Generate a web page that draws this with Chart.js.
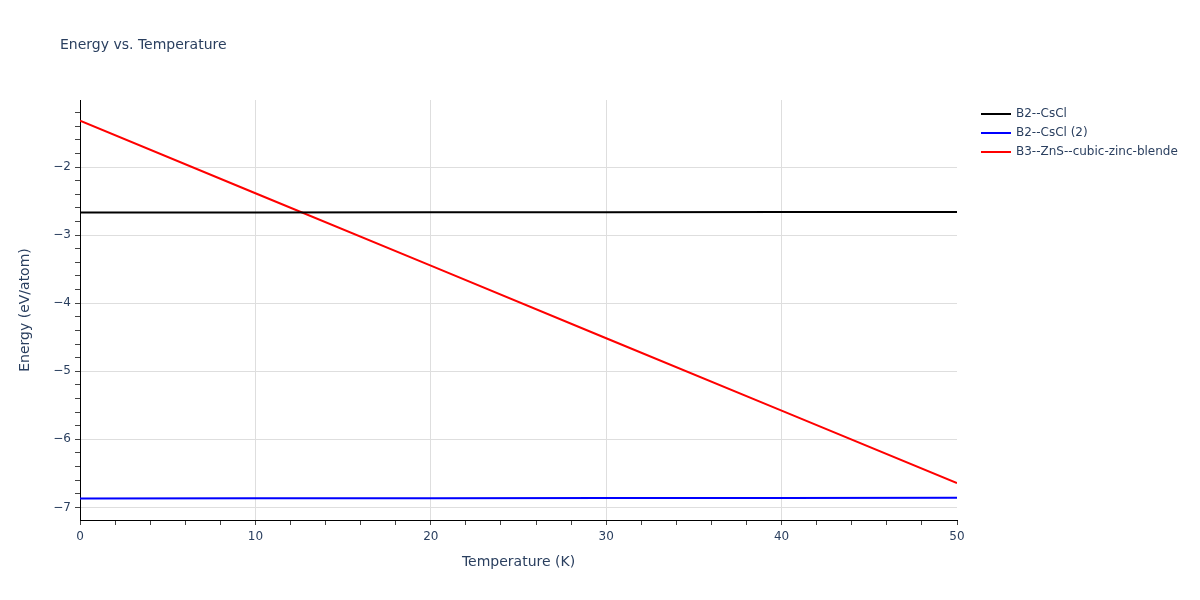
<!DOCTYPE html>
<html>
<head>
<meta charset="utf-8">
<script src="https://cdn.jsdelivr.net/npm/chart.js@4"></script>
<style>
  html, body { margin: 0; padding: 0; background: #fff; }
  #wrap { width: 1200px; height: 600px; }
</style>
</head>
<body>
<div id="wrap"><canvas id="chart"></canvas></div>
<script>
// Values
const temperatures = [0, 10, 20, 30, 40, 50];
const energyB2 = [-2.669, -2.667, -2.665, -2.663, -2.661, -2.659];
const energyB2b = [-6.868, -6.866, -6.864, -6.862, -6.860, -6.858];
const energyB3 = [-1.318, -2.385, -3.448, -4.515, -5.578, -6.641];
const seriesNames = ['B2--CsCl', 'B2--CsCl (2)', 'B3--ZnS--cubic-zinc-blende'];
const seriesColors = ['#000000', '#0000ff', '#ff0000'];
const xTickValues = [0, 2, 4, 6, 8, 10, 12, 14, 16, 18, 20, 22, 24, 26, 28, 30, 32, 34, 36, 38, 40, 42, 44, 46, 48, 50];
const yTickValues = [];
for (let v = -7.2; v <= -1.0; v += 0.2) yTickValues.push(Math.round(v * 10) / 10);

const FONT = '"DejaVu Sans", Verdana, sans-serif';
const TXT = '#2a3f5f';
const isMajor = (v, step) => Math.abs(v / step - Math.round(v / step)) < 1e-6;

// title and legend drawn by hand so they land where plotly put them
const decorPlugin = {
    id: 'decor',
    afterDraw(chart) {
        const ctx = chart.ctx;
        ctx.save();
        ctx.fillStyle = TXT;
        ctx.font = '14px ' + FONT;
        ctx.textBaseline = 'middle';
        ctx.textAlign = 'left';
        ctx.fillText('Energy vs. Temperature', 60, 45);

        ctx.font = '12px ' + FONT;
        chart.data.datasets.forEach((ds, i) => {
            const y = 114 + i * 19;
            ctx.strokeStyle = ds.borderColor;
            ctx.lineWidth = 2;
            ctx.beginPath();
            ctx.moveTo(981, y);
            ctx.lineTo(1011, y);
            ctx.stroke();
            ctx.fillStyle = TXT;
            ctx.fillText(ds.label, 1016, y);
        });
        ctx.restore();
    }
};

const toPoints = (ys) => temperatures.map((t, i) => ({ x: t, y: ys[i] }));

new Chart(document.getElementById('chart'), {
    type: 'line',
    data: {
        datasets: [energyB2, energyB2b, energyB3].map((ys, i) => ({
            label: seriesNames[i],
            data: toPoints(ys),
            borderColor: seriesColors[i],
            backgroundColor: seriesColors[i],
            borderWidth: 2,
            pointRadius: 0,
            tension: 0
        }))
    },
    options: {
        responsive: true,
        maintainAspectRatio: false,
        animation: false,
        layout: { padding: { top: 100, right: 243, left: 0, bottom: 0 } },
        plugins: {
            legend: { display: false },
            title: { display: false },
            tooltip: { enabled: false }
        },
        scales: {
            x: {
                type: 'linear',
                min: 0,
                max: 50,
                afterBuildTicks: (s) => { s.ticks = xTickValues.map(v => ({ value: v })); },
                afterFit: (s) => { s.height = 80; },
                grid: {
                    color: (c) => (c.tick && isMajor(c.tick.value, 10) && c.tick.value > 0 && c.tick.value < 50) ? '#dedede' : 'rgba(0,0,0,0)',
                    tickColor: '#444',
                    tickLength: 5,
                    lineWidth: 1
                },
                border: { display: true, color: '#000', width: 1 },
                ticks: {
                    autoSkip: false,
                    maxRotation: 0,
                    padding: 5,
                    color: TXT,
                    font: { family: FONT, size: 12 },
                    callback: (v) => isMajor(v, 10) ? String(v) : ''
                },
                title: {
                    display: true,
                    text: 'Temperature (K)',
                    color: TXT,
                    font: { family: FONT, size: 14 },
                    padding: { top: 0, bottom: 29 }
                }
            },
            y: {
                type: 'linear',
                min: -7.185,
                max: -1.015,
                afterBuildTicks: (s) => { s.ticks = yTickValues.filter(v => v >= -7.185 && v <= -1.015).map(v => ({ value: v })); },
                afterFit: (s) => { s.width = 80; },
                grid: {
                    color: (c) => (c.tick && isMajor(c.tick.value, 1)) ? '#dedede' : 'rgba(0,0,0,0)',
                    tickColor: '#444',
                    tickLength: 5,
                    lineWidth: 1
                },
                border: { display: true, color: '#000', width: 1 },
                ticks: {
                    autoSkip: false,
                    padding: 4,
                    color: TXT,
                    font: { family: FONT, size: 12 },
                    callback: (v) => isMajor(v, 1) ? String(Math.round(v)).replace('-', '\u2212') : ''
                },
                title: {
                    display: true,
                    text: 'Energy (eV/atom)',
                    color: TXT,
                    font: { family: FONT, size: 14 },
                    padding: { top: 17, bottom: 0 }
                }
            }
        }
    },
    plugins: [decorPlugin]
});
</script>
</body>
</html>
